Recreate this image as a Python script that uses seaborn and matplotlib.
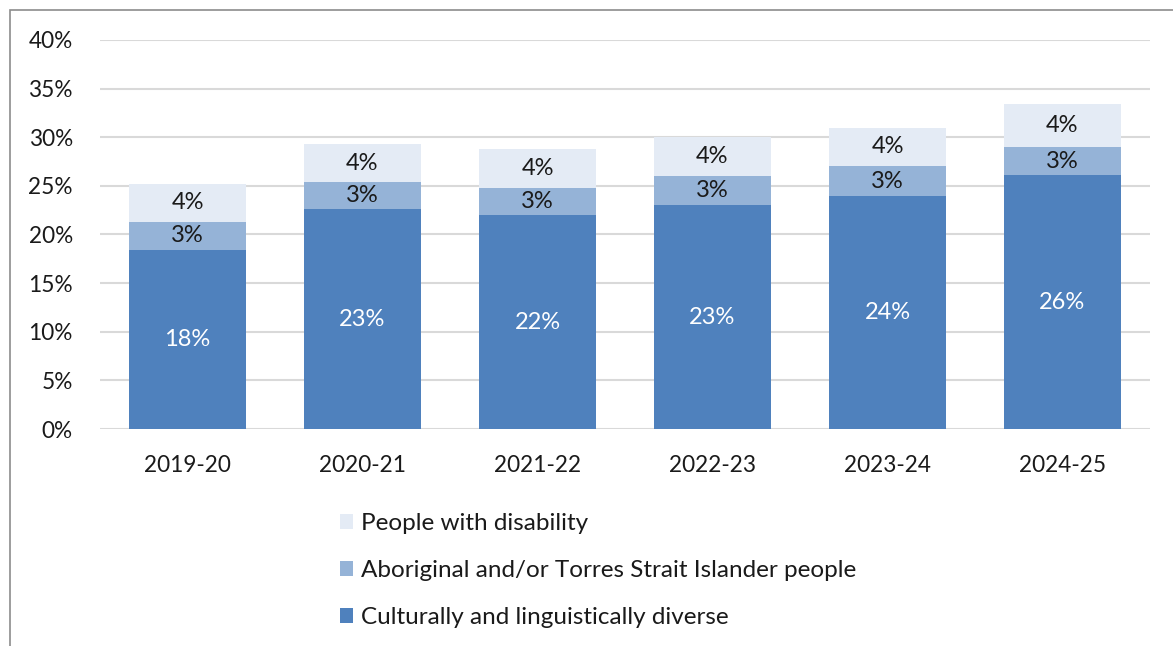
import matplotlib
matplotlib.use("Agg")
import matplotlib.pyplot as plt
import seaborn as sns
import numpy as np
import pandas as pd
from matplotlib.patches import Rectangle, Patch

years = ["2019-20", "2020-21", "2021-22", "2022-23", "2023-24", "2024-25"]
cald = [18.4, 22.6, 22.0, 23.0, 24.0, 26.1]
aboriginal = [2.9, 2.8, 2.8, 3.0, 3.0, 2.9]
disability = [3.9, 3.9, 4.0, 4.0, 4.0, 4.4]
series_names = ["Culturally and linguistically diverse",
                "Aboriginal and/or Torres Strait Islander people",
                "People with disability"]
colors = ["#4F81BD", "#95B3D7", "#E4EBF5"]
yticks = [0, 5, 10, 15, 20, 25, 30, 35, 40]

sns.set_theme(style="white")
plt.rcParams['font.family'] = ['Lato', 'DejaVu Sans']

fig = plt.figure(figsize=(11.73, 6.46), dpi=100)
ax = fig.add_axes([100/1173, 1-429/646, 1050/1173, 389/646])

c = np.array(cald)
a = np.array(aboriginal)
d = np.array(disability)
levels = [c, c + a, c + a + d]

# draw cumulative totals back-to-front
for lvl, col in zip(reversed(levels), reversed(colors)):
    df = pd.DataFrame({"year": years, "val": lvl})
    sns.barplot(data=df, x="year", y="val", color=col, saturation=1,
                width=0.67, linewidth=0, ax=ax, zorder=3)

# labels
bottoms = [np.zeros_like(c), c, c + a]
segs = [c, a, d]
lcolors = ["white", "#1a1a1a", "#1a1a1a"]
for seg, bot, lc in zip(segs, bottoms, lcolors):
    for i, (s, b) in enumerate(zip(seg, bot)):
        ax.text(i, b + s / 2, f"{round(s):.0f}%", ha="center", va="center",
                color=lc, fontsize=17, zorder=5)

ax.set_ylim(0, 40)
ax.set_xlim(-0.5, 5.5)
ax.set_yticks(yticks)
ax.set_yticklabels([f"{v}%" for v in yticks])
ax.yaxis.grid(True, color="#D9D9D9", linewidth=1.5, zorder=0)
ax.set_axisbelow(True)
for sp in ax.spines.values():
    sp.set_visible(False)
ax.set_xlabel("")
ax.set_ylabel("")
ax.tick_params(axis="y", length=0, pad=19.5, labelsize=16.3, labelcolor="#1a1a1a")
ax.tick_params(axis="x", length=0, pad=19, labelsize=16.3, labelcolor="#1a1a1a")

handles = [Patch(facecolor=colors[i], edgecolor="none") for i in [2, 1, 0]]
labels = [series_names[i] for i in [2, 1, 0]]
fig.legend(handles, labels, loc="upper left",
           bbox_to_anchor=(318/1173, 1-491/646), frameon=False,
           fontsize=17.5, handlelength=0.55, handleheight=0.55,
           handletextpad=0.33, labelspacing=1.07, labelcolor="#1a1a1a")

fig.patches.append(Rectangle((10/1173, -0.2), 1.2, 1 - 10/646 + 0.2,
                             transform=fig.transFigure, fill=False,
                             edgecolor="#8C8C8C", linewidth=1.2))

fig.savefig("out.png", dpi=100)
